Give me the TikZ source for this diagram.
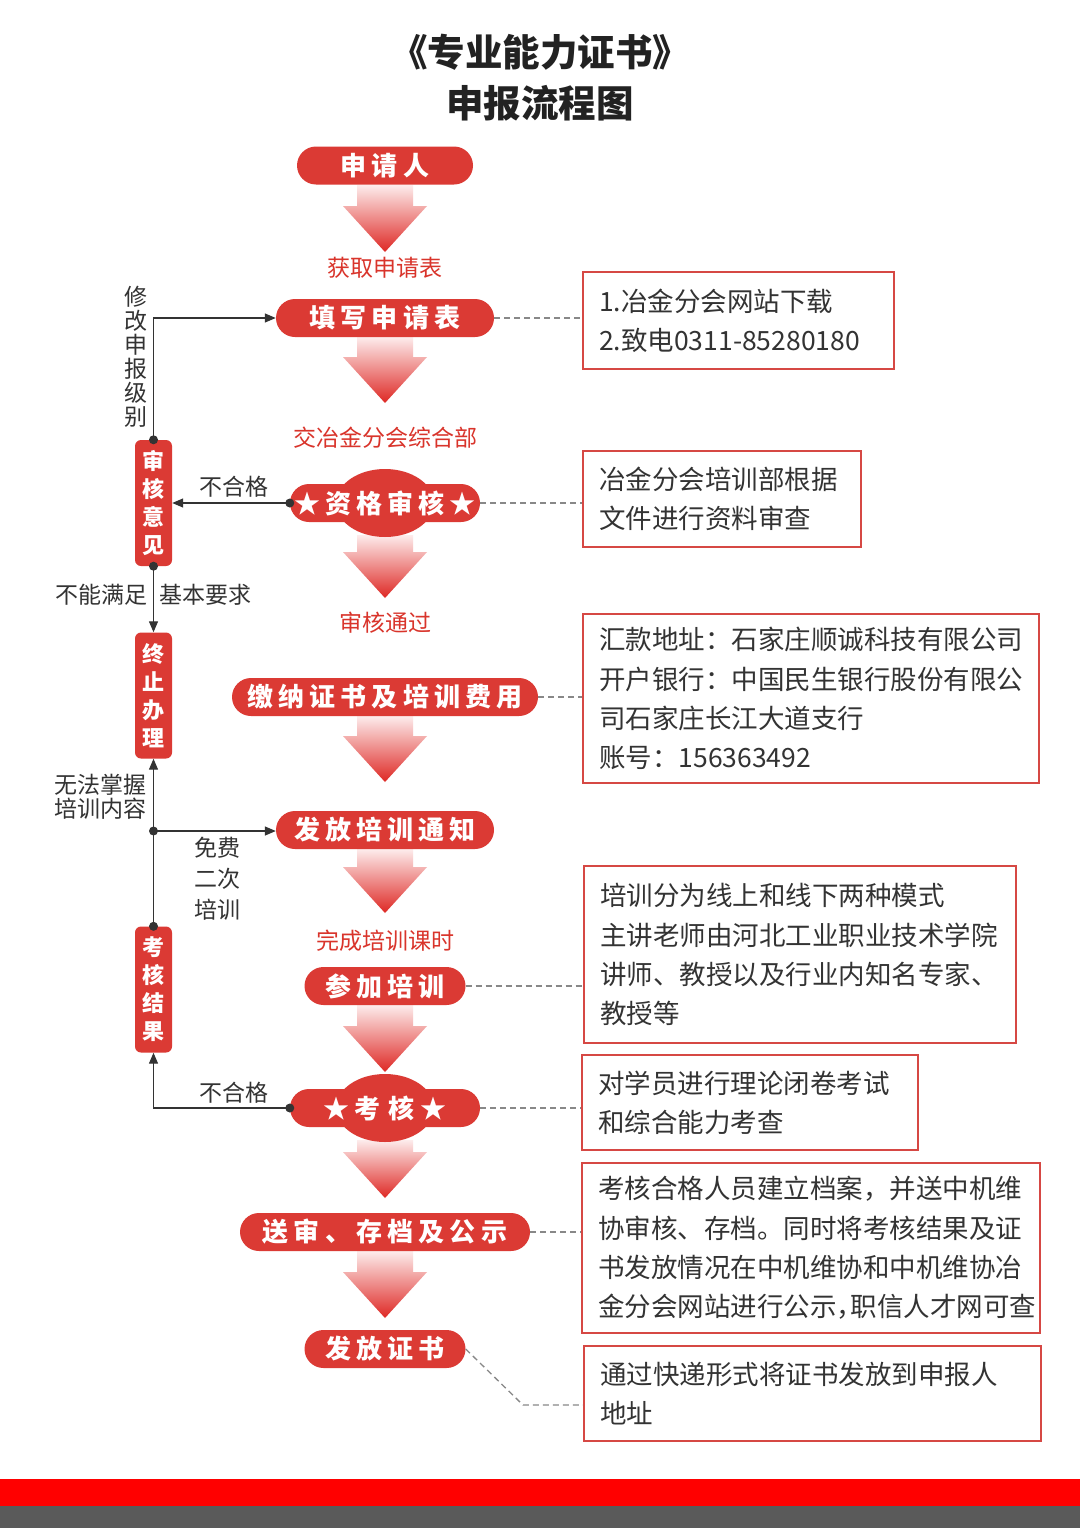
\documentclass[tikz,border=0pt]{standalone}
\usepackage{fontspec}
\setmainfont{Noto Sans CJK SC}
\newfontfamily\pillfont{Noto Sans CJK SC}[LetterSpace=20]
\usetikzlibrary{arrows.meta}
\definecolor{pillred}{RGB}{219,58,52}
\definecolor{labelred}{RGB}{217,52,43}
\definecolor{boxred}{RGB}{214,72,68}
\definecolor{textgray}{RGB}{51,51,51}
\definecolor{titlegray}{RGB}{34,34,34}
\definecolor{linegray}{RGB}{51,51,51}
\definecolor{dashgray}{RGB}{136,136,136}
\definecolor{arrtop}{RGB}{253,236,236}
\definecolor{arrmid}{RGB}{240,150,148}
\definecolor{arrbot}{RGB}{222,40,36}
\definecolor{barred}{RGB}{255,0,0}
\definecolor{bargray}{RGB}{90,90,90}
\newcommand\flowarrow[2]{%
  \shade[top color=arrtop, middle color=arrmid, bottom color=arrbot]
    (357,#1) -- (413,#1) -- (413,{#2-46}) -- (427,{#2-46}) -- (385,#2)
    -- (343,{#2-46}) -- (357,{#2-46}) -- cycle;}
\newcommand\halfcomma{\makebox[14pt][l]{，}}
\begin{document}
\begin{tikzpicture}[x=1pt,y=-1pt,
  pill/.style={rounded corners=19pt, fill=pillred, text=white, minimum height=38pt,
    inner sep=0pt, font=\pillfont\bfseries\fontsize{26}{26}\selectfont},
  sidebox/.style={fill=pillred, rounded corners=6pt, minimum width=37pt, minimum height=126pt,
    text=white, inner sep=0pt, align=center, font=\bfseries\fontsize{22}{28}\selectfont},
  redlabel/.style={text=labelred, inner sep=0pt, font=\fontsize{23}{23}\selectfont},
  sidelabel/.style={text=textgray, inner sep=0pt, font=\fontsize{23}{24}\selectfont},
  infobox/.style={draw=boxred, line width=2.2pt, align=left, inner xsep=16pt, inner ysep=0pt,
    text=textgray, anchor=north west, font=\fontsize{26.5}{39.3}\selectfont},
  conn/.style={draw=linegray, line width=1.3pt},
  tip/.style={-{Triangle[length=11pt,width=9pt]}},
  dashconn/.style={draw=dashgray, line width=1.3pt, dash pattern=on 6pt off 4pt},
  dot/.style={fill=linegray}
]
\useasboundingbox (0,0) rectangle (1080,1528);
\fill[white] (0,0) rectangle (1080,1528);

% title
\node[font=\bfseries\fontsize{37.5}{37.5}\selectfont, text=titlegray] (t1) at (540,52) {《专业能力证书》};
\node[font=\bfseries\fontsize{37.5}{37.5}\selectfont, text=titlegray] (t2) at (540,103) {申报流程图};

% gradient arrows
\flowarrow{185}{252}
\flowarrow{337}{403}
\flowarrow{535}{598}
\flowarrow{716}{782}
\flowarrow{849}{913}
\flowarrow{1005}{1072}
\flowarrow{1140}{1198}
\flowarrow{1251}{1318}

% bumps
\fill[pillred] (385,503) ellipse [x radius=49, y radius=34];
\fill[pillred] (385,1108) ellipse [x radius=49, y radius=34];

% main pills
\node[pill, minimum width=176pt] (sq) at (385,165.5) {申请人};
\node[pill, minimum width=218pt] (tx) at (385,318) {填写申请表};
\node[pill, minimum width=190pt] (zg) at (385,503) {★资格审核★};
\node[pill, minimum width=306pt] (jn) at (385,697) {缴纳证书及培训费用};
\node[pill, minimum width=218pt] (pt) at (385,830) {发放培训通知};
\node[pill, minimum width=161pt] (cj) at (385,986) {参加培训};
\node[pill, minimum width=190pt] (ks) at (385,1108) {★考\hspace{8pt}核★};
\node[pill, minimum width=290pt] (ss) at (385,1232) {送审、存档及公示};
\node[pill, minimum width=161pt] (fz) at (385,1349) {发放证书};

% red labels
\node[redlabel] (l1) at (385,268) {获取申请表};
\node[redlabel] (l2) at (385,438) {交冶金分会综合部};
\node[redlabel] (l3) at (385,623) {审核通过};
\node[redlabel] (l4) at (385,941) {完成培训课时};

% side boxes
\node[sidebox] (sh) at (153.5,503) {审\\核\\意\\见};
\node[sidebox] (zz) at (153.5,695.5) {终\\止\\办\\理};
\node[sidebox] (kh) at (153.5,989.5) {考\\核\\结\\果};

% side labels
\node[sidelabel, align=center] (s1) at (136,357) {修\\改\\申\\报\\级\\别};
\node[sidelabel] (s2) at (234,487) {不合格};
\node[sidelabel, anchor=east] (s3) at (148,595) {不能满足};
\node[sidelabel, anchor=west] (s4) at (159,595) {基本要求};
\node[sidelabel, anchor=east, align=right] (s5) at (147,797) {无法掌握\\培训内容};
\node[sidelabel, align=center, font=\fontsize{23}{31}\selectfont] (s6) at (217,879) {免费\\二次\\培训};
\node[sidelabel] (s7) at (234,1093) {不合格};

% connectors
\coordinate (split) at (153.5,831);
\draw[conn, tip] (sh.north) |- (tx.west);
\draw[conn, tip] (zg.west) -- (sh.east);
\draw[conn, tip] (sh.south) -- (zz.north);
\draw[conn, tip] (kh.north) -- (zz.south);
\draw[conn, tip] (split) -- (split -| pt.west);
\draw[conn, tip] (ks.west) -| (kh.south);
\fill[dot] (sh.north) circle[radius=4.5];
\fill[dot] (sh.south) circle[radius=4.5];
\fill[dot] (zg.west) circle[radius=4.5];
\fill[dot] (split) circle[radius=4.5];
\fill[dot] (kh.north) circle[radius=4.5];
\fill[dot] (ks.west) circle[radius=4.5];

% info boxes
\node[infobox, text width=279pt, minimum height=97pt] (b1) at (582,271) {1.冶金分会网站下载\\2.致电0311-85280180};
\node[infobox, text width=246pt, minimum height=96pt] (b2) at (582,450) {冶金分会培训部根据\\文件进行资料审查};
\node[infobox, text width=424pt, minimum height=169pt] (b3) at (582,613) {汇款地址：石家庄顺诚科技有限公司\\开户银行：中国民生银行股份有限公\\司石家庄长江大道支行\\账号：156363492};
\node[infobox, text width=400pt, minimum height=177pt] (b4) at (583,865) {培训分为线上和线下两种模式\\主讲老师由河北工业职业技术学院\\讲师、教授以及行业内知名专家、\\教授等};
\node[infobox, text width=304pt, minimum height=95pt] (b5) at (581,1054) {对学员进行理论闭卷考试\\和综合能力考查};
\node[infobox, text width=426pt, minimum height=170pt] (b6) at (581,1162) {考核合格人员建立档案，并送中机维\\协审核、存档。同时将考核结果及证\\书发放情况在中机维协和中机维协冶\\金分会网站进行公示\halfcomma 职信人才网可查};
\node[infobox, text width=425pt, minimum height=95pt] (b7) at (583,1345) {通过快递形式将证书发放到申报人\\地址};

% dashed connectors
\draw[dashconn] (tx.east) -- (tx.east -| b1.west);
\draw[dashconn] (zg.east) -- (zg.east -| b2.west);
\draw[dashconn] (jn.east) -- (jn.east -| b3.west);
\draw[dashconn] (cj.east) -- (cj.east -| b4.west);
\draw[dashconn] (ks.east) -- (ks.east -| b5.west);
\draw[dashconn] (ss.east) -- (ss.east -| b6.west);
\coordinate (bend) at (523,1405);
\draw[dashconn] (fz.east) -- (bend) -- (bend -| b7.west);

% bottom bars
\fill[barred] (0,1479) rectangle (1080,1506);
\fill[bargray] (0,1506) rectangle (1080,1528);
\end{tikzpicture}
\end{document}
